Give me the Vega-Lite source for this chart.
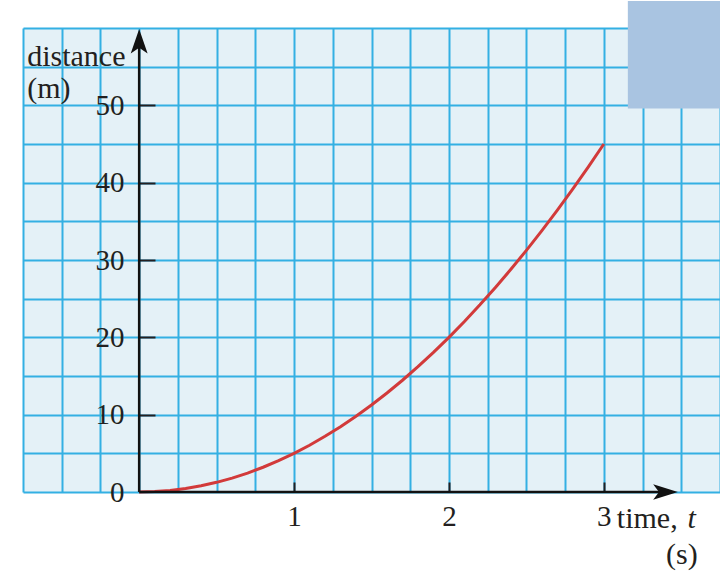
{
  "$schema": "https://vega.github.io/schema/vega-lite/v6.json",
  "width": 697,
  "height": 464,
  "autosize": {"type": "none"},
  "padding": {"left": 23, "top": 28, "right": 0, "bottom": 86},
  "background": "white",
  "config": {
    "view": {"fill": "#e4f1f7", "stroke": null},
    "axis": {"gridColor": "#33b0e3", "gridWidth": 2, "gridOpacity": 1, "labelFont": "Liberation Serif", "labelFontSize": 29, "labelFontWeight": "normal", "labelColor": "#231f20", "tickColor": "#231f20", "tickWidth": 2, "domain": false, "title": null, "tickCount": 200},
    "text": {"font": "Liberation Serif", "fontWeight": "normal"}
  },
  "datasets": {
    "curve": [
      {"t": 0, "d": 0}, {"t": 0.1, "d": 0.05}, {"t": 0.2, "d": 0.2}, {"t": 0.3, "d": 0.45}, {"t": 0.4, "d": 0.8},
      {"t": 0.5, "d": 1.25}, {"t": 0.6, "d": 1.8}, {"t": 0.7, "d": 2.45}, {"t": 0.8, "d": 3.2}, {"t": 0.9, "d": 4.05},
      {"t": 1.0, "d": 5}, {"t": 1.1, "d": 6.05}, {"t": 1.2, "d": 7.2}, {"t": 1.3, "d": 8.45}, {"t": 1.4, "d": 9.8},
      {"t": 1.5, "d": 11.25}, {"t": 1.6, "d": 12.8}, {"t": 1.7, "d": 14.45}, {"t": 1.8, "d": 16.2}, {"t": 1.9, "d": 18.05},
      {"t": 2.0, "d": 20}, {"t": 2.1, "d": 22.05}, {"t": 2.2, "d": 24.2}, {"t": 2.3, "d": 26.45}, {"t": 2.4, "d": 28.8},
      {"t": 2.5, "d": 31.25}, {"t": 2.6, "d": 33.8}, {"t": 2.7, "d": 36.45}, {"t": 2.8, "d": 39.2}, {"t": 2.9, "d": 42.05},
      {"t": 3.0, "d": 45}
    ],
    "one": [{}]
  },
  "layer": [
    {
      "data": {"name": "curve"},
      "mark": {"type": "line", "color": "#d23a3a", "strokeWidth": 3, "clip": false},
      "encoding": {
        "x": {"field": "t", "type": "quantitative",
          "scale": {"domain": [-0.75, 3.75], "nice": false, "zero": false},
          "axis": {
            "orient": "bottom", "offset": 0, "tickCount": 200,
            "values": [-0.75, -0.5, -0.25, 0, 0.25, 0.5, 0.75, 1, 1.25, 1.5, 1.75, 2, 2.25, 2.5, 2.75, 3, 3.25, 3.5, 3.75],
            "labelExpr": "(datum.value == 1 || datum.value == 2 || datum.value == 3) ? datum.value : ''",
            "tickSize": -10,
            "tickOpacity": {"condition": {"test": "datum.value == 1 || datum.value == 2 || datum.value == 3", "value": 1}, "value": 0},
            "labelPadding": 20, "labelAngle": 0, "labelAlign": "center", "labelBaseline": "top", "labelFlush": false, "labelOverlap": false
          }},
        "y": {"field": "d", "type": "quantitative",
          "scale": {"domain": [0, 60], "nice": false},
          "axis": {
            "orient": "left", "offset": -116, "tickCount": 200,
            "values": [0, 5, 10, 15, 20, 25, 30, 35, 40, 45, 50, 55, 60],
            "labelExpr": "(datum.value % 10 == 0 && datum.value < 60) ? datum.value : ''",
            "tickSize": -16,
            "tickOpacity": {"condition": {"test": "datum.value % 10 == 0 && datum.value > 0 && datum.value < 60", "value": 1}, "value": 0},
            "labelPadding": 31, "labelAlign": "right", "labelBaseline": "middle", "labelFlush": false, "labelOverlap": false
          }}
      }
    },
    {
      "data": {"name": "one"},
      "mark": {"type": "rule", "color": "#111111", "strokeWidth": 2.5},
      "encoding": {"x": {"datum": 0}, "x2": {"datum": 3.42}, "y": {"datum": 0}}
    },
    {
      "data": {"name": "one"},
      "mark": {"type": "rule", "color": "#111111", "strokeWidth": 2.5},
      "encoding": {"x": {"datum": 0}, "y": {"datum": 0}, "y2": {"datum": 58.5}}
    },
    {
      "data": {"name": "one"},
      "mark": {"type": "point", "filled": true, "color": "#111111", "opacity": 1, "size": 676, "shape": "M0,-1L0.65,0.9L0,0.45L-0.65,0.9Z"},
      "encoding": {"x": {"datum": 0}, "y": {"datum": 58.2}}
    },
    {
      "data": {"name": "one"},
      "mark": {"type": "point", "filled": true, "color": "#111111", "opacity": 1, "size": 676, "shape": "M1,0L-0.9,0.6L-0.45,0L-0.9,-0.6Z"},
      "encoding": {"x": {"datum": 3.394}, "y": {"datum": 0}}
    },
    {
      "data": {"name": "one"},
      "mark": {"type": "text", "fontSize": 30, "fill": "#231f20", "fontWeight": "normal", "align": "left", "baseline": "middle"},
      "encoding": {"x": {"datum": 3.084}, "y": {"datum": -3.5}, "text": {"value": "time,"}}
    },
    {
      "data": {"name": "one"},
      "mark": {"type": "text", "fontSize": 30, "fontStyle": "italic", "fill": "#231f20", "fontWeight": "normal", "align": "left", "baseline": "middle"},
      "encoding": {"x": {"datum": 3.54}, "y": {"datum": -3.5}, "text": {"value": "t"}}
    },
    {
      "data": {"name": "one"},
      "mark": {"type": "text", "fontSize": 30, "fill": "#231f20", "fontWeight": "normal", "align": "right", "baseline": "middle"},
      "encoding": {"x": {"datum": 3.606}, "y": {"datum": -8.16}, "text": {"value": "(s)"}}
    },
    {
      "data": {"name": "one"},
      "mark": {"type": "text", "fontSize": 30, "fill": "#231f20", "fontWeight": "normal", "align": "left", "baseline": "middle"},
      "encoding": {"x": {"datum": -0.723}, "y": {"datum": 56.3}, "text": {"value": "distance"}}
    },
    {
      "data": {"name": "one"},
      "mark": {"type": "text", "fontSize": 30, "fill": "#231f20", "fontWeight": "normal", "align": "left", "baseline": "middle"},
      "encoding": {"x": {"datum": -0.723}, "y": {"datum": 52.1}, "text": {"value": "(m)"}}
    },
    {
      "data": {"name": "one"},
      "mark": {"type": "rect", "color": "#a9c4e1", "opacity": 1, "clip": false},
      "encoding": {"x": {"datum": 3.155}, "x2": {"datum": 3.9}, "y": {"datum": 63.5}, "y2": {"datum": 49.6}}
    }
  ]
}
